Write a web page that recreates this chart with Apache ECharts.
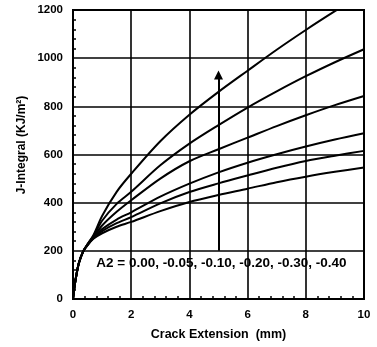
<!DOCTYPE html>
<html>
<head>
<meta charset="utf-8">
<script src="https://cdn.jsdelivr.net/npm/echarts@6/dist/echarts.min.js"></script>
<style>
html,body{margin:0;padding:0;background:#fff;}
#c{width:377px;height:347px;}
</style>
</head>
<body>
<div id="c"></div>
<script>
// Crack extension (mm)
const crackExt = [0, 0.05, 0.1, 0.2, 0.35, 0.5, 0.7, 1, 1.5, 2, 3, 4, 5, 6, 7, 8, 9, 10];
// J-Integral (KJ/m^2) for each A2 value
const jA2_000 = [0, 50, 88, 148, 198, 228, 265, 345, 445, 520, 655, 765, 860, 948, 1035, 1117, 1195, 1270];
const jA2_005 = [0, 50, 88, 148, 198, 227, 260, 325, 395, 445, 555, 645, 722, 795, 862, 925, 983, 1037];
const jA2_010 = [0, 50, 88, 148, 198, 226, 257, 305, 362, 410, 500, 572, 622, 670, 718, 763, 805, 843];
const jA2_020 = [0, 50, 88, 148, 198, 225, 254, 290, 330, 360, 425, 479, 526, 566, 601, 633, 662, 688];
const jA2_030 = [0, 50, 88, 148, 198, 224, 252, 282, 315, 340, 397, 444, 480, 513, 545, 573, 595, 615];
const jA2_040 = [0, 50, 88, 148, 198, 223, 250, 273, 300, 320, 365, 403, 432, 458, 485, 508, 528, 546];
const seriesNames = ['0.00', '-0.05', '-0.10', '-0.20', '-0.30', '-0.40'];
const seriesValues = [jA2_000, jA2_005, jA2_010, jA2_020, jA2_030, jA2_040];
// Arrow (direction of increasing A2)
const arrowX = [5, 5];
const arrowY = [200, 930];
// Annotation anchor (data coords)
const noteX = 0.8;
const noteY = 150;
const noteText = 'A2 = 0.00, -0.05, -0.10, -0.20, -0.30, -0.40';
// Axis ticks
const xTicks = [0, 2, 4, 6, 8, 10];
const yTicks = [0, 200, 400, 600, 800, 1000, 1200];

const FONT = '"Liberation Sans", Arial, Helvetica, sans-serif';
const chart = echarts.init(document.getElementById('c'), null, {renderer: 'canvas'});

const series = seriesValues.map((vals, i) => ({
  name: seriesNames[i],
  type: 'line',
  data: crackExt.map((x, k) => [x, vals[k]]),
  showSymbol: false,
  smooth: 0.3,
  clip: true,
  lineStyle: {color: '#000', width: 2},
  z: 5
}));

series.push({
  name: 'arrow',
  type: 'line',
  data: [],
  markLine: {
    silent: true,
    symbol: ['none', 'triangle'],
    symbolSize: 9,
    label: {show: false},
    lineStyle: {color: '#000', width: 2, type: 'solid'},
    data: [[{coord: [arrowX[0], arrowY[0]]}, {coord: [arrowX[1], arrowY[1]]}]]
  }
});

chart.setOption({
  animation: false,
  backgroundColor: '#fff',
  grid: {left: 73, right: 13, top: 10, bottom: 48, show: true, borderColor: '#000', borderWidth: 2, backgroundColor: 'transparent', z: 10},
  xAxis: {
    type: 'value', min: xTicks[0], max: xTicks[xTicks.length - 1], interval: 2,
    name: 'Crack Extension  (mm)', nameLocation: 'middle', nameGap: 29,
    nameTextStyle: {color: '#000', fontFamily: FONT, fontWeight: 'bold', fontSize: 12.5},
    axisLine: {show: true, lineStyle: {color: '#000', width: 2}},
    axisTick: {show: false, inside: true},
    minorTick: {show: true, splitNumber: 5, length: 3, lineStyle: {color: '#000', width: 1.5}},
    axisLabel: {color: '#000', fontFamily: FONT, fontWeight: 'bold', fontSize: 11.5, margin: 10, formatter: v => String(v)},
    splitLine: {show: true, lineStyle: {color: '#000', width: 1.6}}
  },
  yAxis: {
    type: 'value', min: yTicks[0], max: yTicks[yTicks.length - 1], interval: 200,
    axisLine: {show: true, lineStyle: {color: '#000', width: 2}},
    axisTick: {show: false, inside: true},
    minorTick: {show: true, splitNumber: 5, length: 3, lineStyle: {color: '#000', width: 1.5}},
    axisLabel: {color: '#000', fontFamily: FONT, fontWeight: 'bold', fontSize: 11.5, margin: 10, formatter: v => String(v)},
    splitLine: {show: true, lineStyle: {color: '#000', width: 1.6}}
  },
  series: series
});

const p = chart.convertToPixel({gridIndex: 0}, [noteX, noteY]);
chart.setOption({
  graphic: [
    {
      type: 'text', position: [p[0], p[1]], z: 20,
      style: {text: noteText, fill: '#000', font: 'bold 13.5px ' + FONT, textVerticalAlign: 'middle', verticalAlign: 'middle', textAlign: 'left', align: 'left'}
    },
    {
      type: 'text', position: [22, 145], rotation: Math.PI / 2, z: 20,
      style: {text: 'J-Integral (KJ/m²)', fill: '#000', font: 'bold 12px ' + FONT, textAlign: 'center', align: 'center', textVerticalAlign: 'middle', verticalAlign: 'middle'}
    }
  ]
});
</script>
</body>
</html>
